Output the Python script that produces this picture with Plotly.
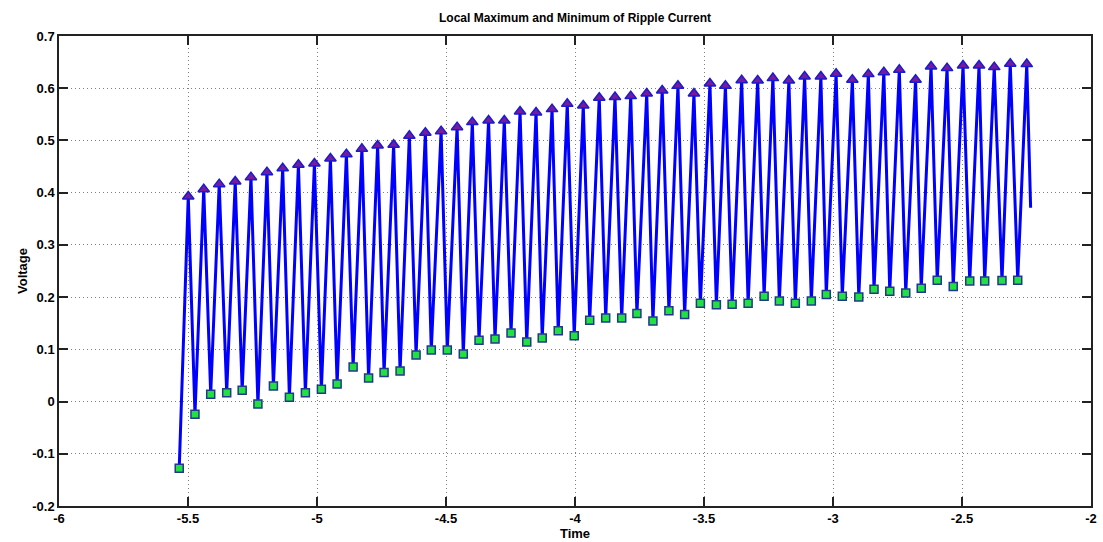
import plotly.graph_objects as go

# Local maxima (triangles)
max_t = [-5.499, -5.439, -5.379, -5.317, -5.256, -5.194, -5.133, -5.072, -5.010, -4.948,
         -4.886, -4.826, -4.765, -4.703, -4.642, -4.580, -4.519, -4.457, -4.398, -4.335,
         -4.274, -4.213, -4.151, -4.089, -4.030, -3.968, -3.906, -3.845, -3.784, -3.722,
         -3.662, -3.601, -3.539, -3.477, -3.417, -3.354, -3.292, -3.233, -3.171, -3.110,
         -3.047, -2.988, -2.925, -2.863, -2.803, -2.743, -2.680, -2.620, -2.558, -2.496,
         -2.434, -2.375, -2.313, -2.249]
max_v = [0.3925, 0.4067, 0.4163, 0.4213, 0.4297, 0.4393, 0.4469, 0.4533, 0.4557, 0.4653,
         0.4738, 0.4839, 0.4902, 0.4916, 0.5088, 0.5146, 0.5178, 0.5255, 0.5351, 0.5381,
         0.5381, 0.5554, 0.5534, 0.5600, 0.5701, 0.5669, 0.5816, 0.5830, 0.5849, 0.5898,
         0.5956, 0.6046, 0.5898, 0.6090, 0.6046, 0.6155, 0.6148, 0.6194, 0.6148, 0.6224,
         0.6224, 0.6276, 0.6161, 0.6270, 0.6308, 0.6352, 0.6161, 0.6416, 0.6385, 0.6435,
         0.6435, 0.6404, 0.6467, 0.6462]

# Local minima (squares)
min_t = [-5.534, -5.473, -5.412, -5.350, -5.290, -5.229, -5.169, -5.107, -5.045, -4.983,
         -4.922, -4.860, -4.800, -4.740, -4.678, -4.616, -4.557, -4.495, -4.433, -4.372,
         -4.310, -4.248, -4.187, -4.127, -4.065, -4.003, -3.943, -3.881, -3.819, -3.760,
         -3.698, -3.636, -3.575, -3.514, -3.452, -3.391, -3.329, -3.267, -3.208, -3.146,
         -3.084, -3.026, -2.964, -2.900, -2.841, -2.780, -2.718, -2.658, -2.596, -2.534,
         -2.470, -2.412, -2.345, -2.284]
min_v = [-0.1278, -0.0243, 0.0140, 0.0170, 0.0216, -0.0046, 0.0299, 0.0082, 0.0170, 0.0236,
         0.0337, 0.0663, 0.0452, 0.0554, 0.0586, 0.0893, 0.0989, 0.0989, 0.0912, 0.1174,
         0.1199, 0.1314, 0.1142, 0.1218, 0.1358, 0.1262, 0.1557, 0.1602, 0.1602, 0.1684,
         0.1544, 0.1741, 0.1665, 0.1883, 0.1856, 0.1864, 0.1883, 0.2017, 0.1927, 0.1883,
         0.1927, 0.2048, 0.2017, 0.2004, 0.2151, 0.2113, 0.2080, 0.2171, 0.2324, 0.2201,
         0.2310, 0.2310, 0.2316, 0.2324]

# Final sample of the signal
end_t = -2.234
end_v = 0.371

x_ticks = [-6, -5.5, -5, -4.5, -4, -3.5, -3, -2.5, -2]
x_labels = ["-6", "-5.5", "-5", "-4.5", "-4", "-3.5", "-3", "-2.5", "-2"]
y_ticks = [-0.2, -0.1, 0, 0.1, 0.2, 0.3, 0.4, 0.5, 0.6, 0.7]
y_labels = ["-0.2", "-0.1", "0", "0.1", "0.2", "0.3", "0.4", "0.5", "0.6", "0.7"]

# signal: alternating min -> max
sig_t, sig_v = [], []
for i in range(len(min_t)):
    sig_t += [min_t[i], max_t[i]]
    sig_v += [min_v[i], max_v[i]]
sig_t.append(end_t)
sig_v.append(end_v)

fig = go.Figure()
fig.add_trace(go.Scatter(x=sig_t, y=sig_v, mode="lines",
                         line=dict(color="#0000ff", width=3), showlegend=False))
fig.add_trace(go.Scatter(x=max_t, y=max_v, mode="markers",
                         marker=dict(symbol="triangle-up", size=10, color="#7a1a9a",
                                     line=dict(color="#1a1ad0", width=1.5)),
                         showlegend=False))
fig.add_trace(go.Scatter(x=min_t, y=min_v, mode="markers",
                         marker=dict(symbol="square", size=8, color="#22e040",
                                     line=dict(color="#1f3a8a", width=1.5)),
                         showlegend=False))

font_fam = "Liberation Sans, Arial, sans-serif"
axis_common = dict(showline=True, linecolor="#222222", linewidth=1.5, mirror="ticks",
                   ticks="inside", ticklen=9, tickwidth=1.5, tickcolor="#222222",
                   showgrid=True, gridcolor="#808080", griddash="1px,3px", gridwidth=1,
                   zeroline=False, automargin=False,
                   tickfont=dict(family=font_fam, size=13, color="black", weight="bold"))

fig.update_layout(
    width=1103, height=542,
    margin=dict(l=59, r=12, t=36, b=36),
    plot_bgcolor="white", paper_bgcolor="white",
    title=dict(text="<b>Local Maximum and Minimum of Ripple Current</b>",
               x=0.5, xanchor="center", xref="paper", y=0.968, yanchor="middle",
               font=dict(family=font_fam, size=12, color="black")),
    xaxis=dict(range=[-6, -2], tickvals=x_ticks, ticktext=x_labels,
               title=dict(text="<b>Time</b>", standoff=0,
                          font=dict(family=font_fam, size=13, color="black")),
               **axis_common),
    yaxis=dict(range=[-0.2, 0.7], tickvals=y_ticks, ticktext=y_labels,
               title=dict(text="<b>Voltage</b>", standoff=2,
                          font=dict(family=font_fam, size=13, color="black")),
               **axis_common),
)

fig.write_html("out.html")
